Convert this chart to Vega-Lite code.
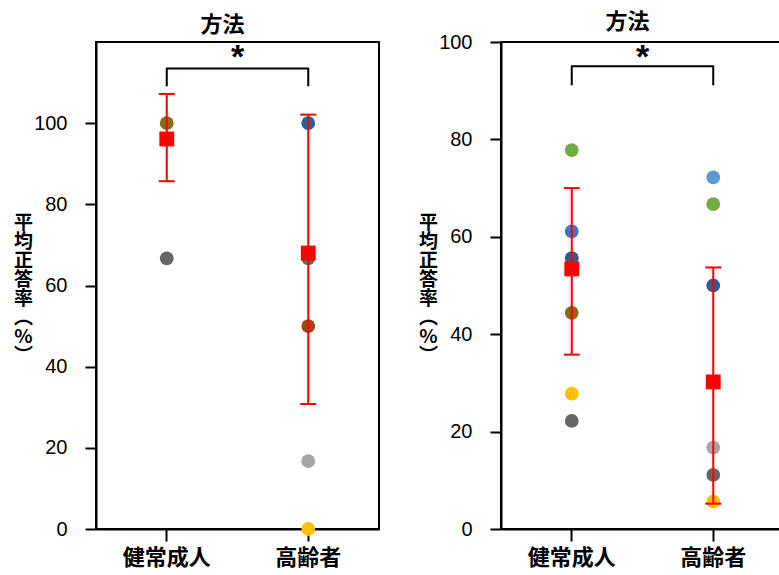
{
  "$schema": "https://vega.github.io/schema/vega-lite/v6.json",
  "padding": {"left": 12, "top": 10, "right": 0, "bottom": 0},
  "background": "white",
  "datasets": {
    "pts": [
      {"panel": "A", "group": "健常成人", "subject": "S1", "value": 100},
      {"panel": "A", "group": "健常成人", "subject": "S2", "value": 66.7},
      {"panel": "A", "group": "高齢者", "subject": "S3", "value": 100},
      {"panel": "A", "group": "高齢者", "subject": "S2", "value": 66.7},
      {"panel": "A", "group": "高齢者", "subject": "S4", "value": 50},
      {"panel": "A", "group": "高齢者", "subject": "S5", "value": 16.7},
      {"panel": "A", "group": "高齢者", "subject": "S6", "value": 0},
      {"panel": "B", "group": "健常成人", "subject": "S9", "value": 77.8},
      {"panel": "B", "group": "健常成人", "subject": "S7", "value": 61.1},
      {"panel": "B", "group": "健常成人", "subject": "S3", "value": 55.6},
      {"panel": "B", "group": "健常成人", "subject": "S1", "value": 44.4},
      {"panel": "B", "group": "健常成人", "subject": "S6", "value": 27.8},
      {"panel": "B", "group": "健常成人", "subject": "S2", "value": 22.2},
      {"panel": "B", "group": "高齢者", "subject": "S8", "value": 72.2},
      {"panel": "B", "group": "高齢者", "subject": "S9", "value": 66.7},
      {"panel": "B", "group": "高齢者", "subject": "S3", "value": 50},
      {"panel": "B", "group": "高齢者", "subject": "S5", "value": 16.7},
      {"panel": "B", "group": "高齢者", "subject": "S2", "value": 11.1},
      {"panel": "B", "group": "高齢者", "subject": "S6", "value": 5.6}
    ],
    "stats": [
      {"panel": "A", "group": "健常成人", "mean": 96.1, "lower": 85.7, "upper": 107.2},
      {"panel": "A", "group": "高齢者", "mean": 68.0, "lower": 30.8, "upper": 102.1},
      {"panel": "B", "group": "健常成人", "mean": 53.4, "lower": 35.8, "upper": 70.0},
      {"panel": "B", "group": "高齢者", "mean": 30.2, "lower": 5.2, "upper": 53.7}
    ],
    "bracket": [
      {"panel": "A", "group": "健常成人", "value": 109.1, "step": 1},
      {"panel": "A", "group": "健常成人", "value": 113.5, "step": 2},
      {"panel": "A", "group": "高齢者", "value": 113.5, "step": 3},
      {"panel": "A", "group": "高齢者", "value": 109.1, "step": 4},
      {"panel": "B", "group": "健常成人", "value": 91.1, "step": 1},
      {"panel": "B", "group": "健常成人", "value": 95.0, "step": 2},
      {"panel": "B", "group": "高齢者", "value": 95.0, "step": 3},
      {"panel": "B", "group": "高齢者", "value": 91.1, "step": 4}
    ],
    "star": [
      {"panel": "A", "label": "*", "pos": 0.5, "value": 116.0},
      {"panel": "B", "label": "*", "pos": 0.5, "value": 96.8}
    ]
  },
  "config": {
    "view": {"stroke": "black", "strokeWidth": 2},
    "axis": {
      "domainColor": "black", "domainWidth": 2,
      "tickColor": "black", "tickWidth": 2, "tickSize": 11,
      "labelColor": "black", "grid": false, "titleColor": "black"
    },
    "axisY": {
      "labelFont": "Liberation Sans", "labelFontSize": 20, "labelPadding": 18,
      "titleAngle": 0, "titleFont": "Noto Sans CJK JP", "titleFontWeight": "bold",
      "titleFontSize": 19, "titleLineHeight": 19, "titleAlign": "center",
      "titleBaseline": "middle", "titleX": -73, "titleY": 180.5
    },
    "axisX": {
      "labelAngle": 0, "labelFont": "Noto Sans CJK JP", "labelFontWeight": "bold",
      "labelFontSize": 22, "labelPadding": 6, "tickSize": 12
    },
    "title": {
      "font": "Noto Sans CJK JP", "fontWeight": "bold", "fontSize": 22,
      "color": "black", "anchor": "middle", "frame": "group", "dx": -15
    }
  },
  "spacing": 37,
  "resolve": {"scale": {"y": "independent", "x": "independent"}},
  "hconcat": [
    {
      "title": {"text": "方法", "offset": 4},
      "width": 283,
      "height": 487,
      "resolve": {"scale": {"x": "independent"}},
      "layer": [
        {
          "layer": [
            {
              "data": {"name": "pts"},
              "transform": [{"filter": "datum.panel === 'A'"}],
              "mark": {"type": "circle", "size": 190, "opacity": 1},
              "encoding": {
                "x": {"field": "group", "type": "nominal", "scale": {"domain": ["健常成人", "高齢者"]}, "axis": {"title": null}},
                "y": {"field": "value", "type": "quantitative", "scale": {"domain": [0, 120], "nice": false}, "axis": {"values": [0, 20, 40, 60, 80, 100], "title": ["平", "均", "正", "答", "率", "︵", "%", "︶"]}},
                "color": {"field": "subject", "type": "nominal", "legend": null,
                  "scale": {"domain": ["S1", "S2", "S3", "S4", "S5", "S6", "S7", "S8", "S9"],
                    "range": ["#8B6A14", "#666666", "#2C5E93", "#9E480E", "#A5A5A5", "#FFC000", "#4472C4", "#5B9BD5", "#70AD47"]}}
              }
            },
            {
              "data": {"name": "stats"},
              "transform": [{"filter": "datum.panel === 'A'"}],
              "mark": {"type": "rule", "color": "#FF0000", "strokeWidth": 2},
              "encoding": {
                "x": {"field": "group", "type": "nominal"},
                "y": {"field": "lower", "type": "quantitative"},
                "y2": {"field": "upper"}
              }
            },
            {
              "data": {"name": "stats"},
              "transform": [{"filter": "datum.panel === 'A'"}],
              "mark": {"type": "tick", "color": "#FF0000", "size": 16, "thickness": 2, "orient": "horizontal", "opacity": 1},
              "encoding": {
                "x": {"field": "group", "type": "nominal"},
                "y": {"field": "upper", "type": "quantitative"}
              }
            },
            {
              "data": {"name": "stats"},
              "transform": [{"filter": "datum.panel === 'A'"}],
              "mark": {"type": "tick", "color": "#FF0000", "size": 16, "thickness": 2, "orient": "horizontal", "opacity": 1},
              "encoding": {
                "x": {"field": "group", "type": "nominal"},
                "y": {"field": "lower", "type": "quantitative"}
              }
            },
            {
              "data": {"name": "stats"},
              "transform": [{"filter": "datum.panel === 'A'"}],
              "mark": {"type": "square", "color": "#FF0000", "size": 220, "opacity": 1, "filled": true},
              "encoding": {
                "x": {"field": "group", "type": "nominal"},
                "y": {"field": "mean", "type": "quantitative"}
              }
            },
            {
              "data": {"name": "bracket"},
              "transform": [{"filter": "datum.panel === 'A'"}],
              "mark": {"type": "line", "color": "black", "strokeWidth": 2, "strokeJoin": "round"},
              "encoding": {
                "x": {"field": "group", "type": "nominal"},
                "y": {"field": "value", "type": "quantitative"},
                "order": {"field": "step", "type": "quantitative"}
              }
            }
          ]
        },
        {
          "data": {"name": "star"},
          "transform": [{"filter": "datum.panel === 'A'"}],
          "mark": {"type": "text", "font": "Liberation Sans", "fontWeight": "bold", "fontSize": 34, "baseline": "middle", "align": "center", "color": "black"},
          "encoding": {
            "x": {"field": "pos", "type": "quantitative", "scale": {"domain": [0, 1]}, "axis": null},
            "y": {"field": "value", "type": "quantitative"},
            "text": {"field": "label"}
          }
        }
      ]
    },
    {
      "title": {"text": "方法", "offset": -2},
      "width": 283,
      "height": 487,
      "resolve": {"scale": {"x": "independent"}},
      "layer": [
        {
          "layer": [
            {
              "data": {"name": "pts"},
              "transform": [{"filter": "datum.panel === 'B'"}],
              "mark": {"type": "circle", "size": 190, "opacity": 1},
              "encoding": {
                "x": {"field": "group", "type": "nominal", "scale": {"domain": ["健常成人", "高齢者"]}, "axis": {"title": null}},
                "y": {"field": "value", "type": "quantitative", "scale": {"domain": [0, 100], "nice": false}, "axis": {"values": [0, 20, 40, 60, 80, 100], "title": ["平", "均", "正", "答", "率", "︵", "%", "︶"]}},
                "color": {"field": "subject", "type": "nominal", "legend": null,
                  "scale": {"domain": ["S1", "S2", "S3", "S4", "S5", "S6", "S7", "S8", "S9"],
                    "range": ["#8B6A14", "#666666", "#2C5E93", "#9E480E", "#A5A5A5", "#FFC000", "#4472C4", "#5B9BD5", "#70AD47"]}}
              }
            },
            {
              "data": {"name": "stats"},
              "transform": [{"filter": "datum.panel === 'B'"}],
              "mark": {"type": "rule", "color": "#FF0000", "strokeWidth": 2},
              "encoding": {
                "x": {"field": "group", "type": "nominal"},
                "y": {"field": "lower", "type": "quantitative"},
                "y2": {"field": "upper"}
              }
            },
            {
              "data": {"name": "stats"},
              "transform": [{"filter": "datum.panel === 'B'"}],
              "mark": {"type": "tick", "color": "#FF0000", "size": 16, "thickness": 2, "orient": "horizontal", "opacity": 1},
              "encoding": {
                "x": {"field": "group", "type": "nominal"},
                "y": {"field": "upper", "type": "quantitative"}
              }
            },
            {
              "data": {"name": "stats"},
              "transform": [{"filter": "datum.panel === 'B'"}],
              "mark": {"type": "tick", "color": "#FF0000", "size": 16, "thickness": 2, "orient": "horizontal", "opacity": 1},
              "encoding": {
                "x": {"field": "group", "type": "nominal"},
                "y": {"field": "lower", "type": "quantitative"}
              }
            },
            {
              "data": {"name": "stats"},
              "transform": [{"filter": "datum.panel === 'B'"}],
              "mark": {"type": "square", "color": "#FF0000", "size": 220, "opacity": 1, "filled": true},
              "encoding": {
                "x": {"field": "group", "type": "nominal"},
                "y": {"field": "mean", "type": "quantitative"}
              }
            },
            {
              "data": {"name": "bracket"},
              "transform": [{"filter": "datum.panel === 'B'"}],
              "mark": {"type": "line", "color": "black", "strokeWidth": 2, "strokeJoin": "round"},
              "encoding": {
                "x": {"field": "group", "type": "nominal"},
                "y": {"field": "value", "type": "quantitative"},
                "order": {"field": "step", "type": "quantitative"}
              }
            }
          ]
        },
        {
          "data": {"name": "star"},
          "transform": [{"filter": "datum.panel === 'B'"}],
          "mark": {"type": "text", "font": "Liberation Sans", "fontWeight": "bold", "fontSize": 34, "baseline": "middle", "align": "center", "color": "black"},
          "encoding": {
            "x": {"field": "pos", "type": "quantitative", "scale": {"domain": [0, 1]}, "axis": null},
            "y": {"field": "value", "type": "quantitative"},
            "text": {"field": "label"}
          }
        }
      ]
    }
  ]
}
